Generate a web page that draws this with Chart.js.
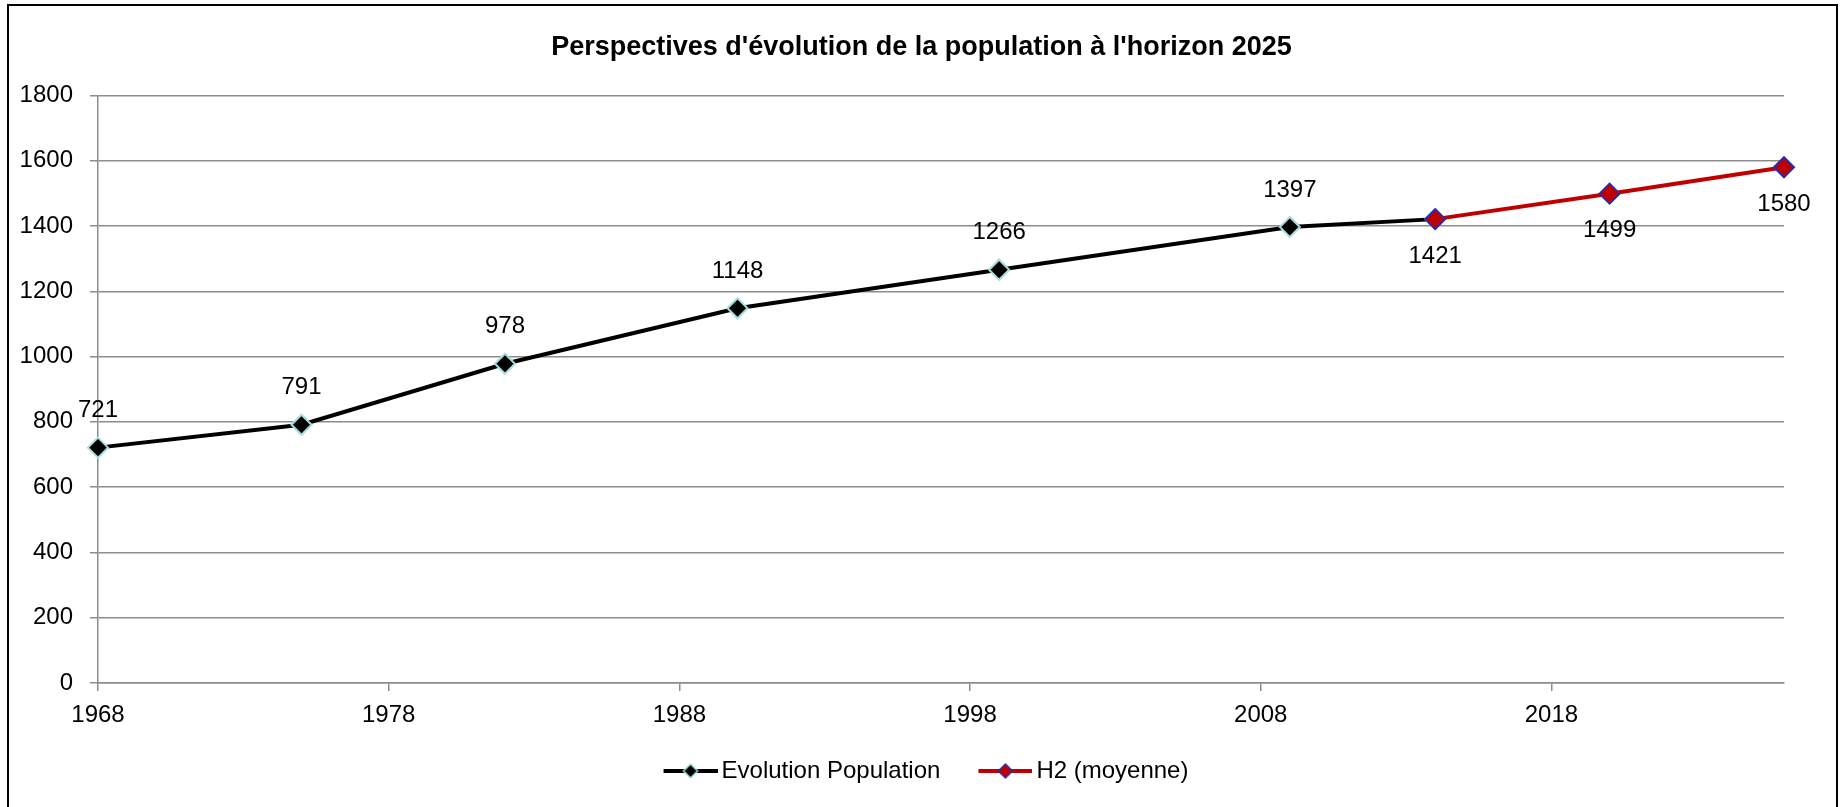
<!DOCTYPE html>
<html lang="fr">
<head>
    <meta charset="UTF-8">
    <title>Perspectives d'évolution de la population</title>
    <script src="https://cdn.jsdelivr.net/npm/chart.js"></script>
    <style>
        html, body {
            margin: 0;
            padding: 0;
            background: #fff;
        }
        #popChart {
            display: block;
        }
    </style>
</head>
<body>
    <canvas id="popChart" width="1843" height="807"></canvas>
    <script>
        // recensements
        const popYears = [1968, 1975, 1982, 1990, 1999, 2009, 2014];
        const popValues = [721, 791, 978, 1148, 1266, 1397, 1421];
        // hypothèse H2 (moyenne)
        const h2Years = [2014, 2020, 2026];
        const h2Values = [1421, 1499, 1580];
        const xTicks = [1968, 1978, 1988, 1998, 2008, 2018];
        const yTicks = [0, 200, 400, 600, 800, 1000, 1200, 1400, 1600, 1800];

        const FONT = "'Liberation Sans Narrow', 'Arial Narrow', 'Liberation Sans', Arial, sans-serif";
        const GRID = '#8c8c8c';

        // legend icon: line with a diamond in the middle, left part left blank
        function legendIcon(lineColor, fill, stroke) {
            const c = document.createElement('canvas');
            c.width = 71;
            c.height = 18;
            const g = c.getContext('2d');
            g.strokeStyle = lineColor;
            g.lineWidth = 4;
            g.beginPath();
            g.moveTo(17, 9);
            g.lineTo(71, 9);
            g.stroke();
            const cx = 44, cy = 9, r = 7;
            g.beginPath();
            g.moveTo(cx, cy - r);
            g.lineTo(cx + r, cy);
            g.lineTo(cx, cy + r);
            g.lineTo(cx - r, cy);
            g.closePath();
            g.fillStyle = fill;
            g.fill();
            g.strokeStyle = stroke;
            g.lineWidth = 1.5;
            g.stroke();
            return c;
        }

        const popIcon = legendIcon('#000000', '#000000', '#a8dadc');
        const h2Icon = legendIcon('#c00000', '#c00000', '#2b2ba8');

        // outer frame
        const framePlugin = {
            id: 'frame',
            beforeDraw(chart) {
                const ctx = chart.ctx;
                ctx.save();
                ctx.strokeStyle = '#000';
                ctx.lineWidth = 2;
                ctx.strokeRect(8, 5, 1829, 830);
                ctx.restore();
            }
        };

        // value labels: above for the census line, below for the projection
        const valueLabels = {
            id: 'valueLabels',
            afterDatasetsDraw(chart) {
                const ctx = chart.ctx;
                ctx.save();
                ctx.font = '24px ' + FONT;
                ctx.fillStyle = '#000';
                ctx.textAlign = 'center';
                ctx.textBaseline = 'middle';
                chart.data.datasets.forEach((ds, i) => {
                    const meta = chart.getDatasetMeta(i);
                    meta.data.forEach((pt, j) => {
                        const d = ds.data[j];
                        if (i === 0 && h2Years.includes(d.x)) return;
                        const dy = i === 0 ? -37 : 37;
                        ctx.fillText(String(d.y), pt.x, pt.y + dy);
                    });
                });
                ctx.restore();
            }
        };

        const ctx = document.getElementById('popChart').getContext('2d');
        new Chart(ctx, {
            type: 'line',
            data: {
                datasets: [
                    {
                        label: 'Evolution Population',
                        data: popYears.map((x, i) => ({ x: x, y: popValues[i] })),
                        borderColor: '#000000',
                        borderWidth: 4,
                        pointStyle: 'rectRot',
                        pointRadius: 10,
                        pointBackgroundColor: '#000000',
                        pointBorderColor: '#a8dadc',
                        pointBorderWidth: 2,
                        tension: 0,
                        clip: false,
                        order: 1
                    },
                    {
                        label: 'H2 (moyenne)',
                        data: h2Years.map((x, i) => ({ x: x, y: h2Values[i] })),
                        borderColor: '#c00000',
                        borderWidth: 4,
                        pointStyle: 'rectRot',
                        pointRadius: 10,
                        pointBackgroundColor: '#c00000',
                        pointBorderColor: '#2b2ba8',
                        pointBorderWidth: 2,
                        tension: 0,
                        clip: false,
                        order: 0
                    }
                ]
            },
            options: {
                responsive: false,
                animation: false,
                layout: {
                    padding: { left: 0, right: 0, top: 0, bottom: 14 }
                },
                scales: {
                    x: {
                        type: 'linear',
                        min: 1968,
                        max: 2026,
                        afterBuildTicks(scale) {
                            scale.ticks = xTicks.map(v => ({ value: v }));
                        },
                        afterFit(scale) {
                            scale.height = 47;
                        },
                        grid: {
                            drawOnChartArea: false,
                            drawTicks: true,
                            tickLength: 8,
                            color: GRID,
                            lineWidth: 1.5
                        },
                        border: { color: GRID, width: 1.5 },
                        ticks: {
                            padding: 10,
                            maxRotation: 0,
                            color: '#000',
                            font: { family: FONT, size: 24 },
                            callback: v => String(v)
                        }
                    },
                    y: {
                        min: 0,
                        max: 1800,
                        afterBuildTicks(scale) {
                            scale.ticks = yTicks.map(v => ({ value: v }));
                        },
                        afterFit(scale) {
                            scale.width = 98;
                        },
                        grid: {
                            color: GRID,
                            lineWidth: 1.5,
                            drawTicks: true,
                            tickLength: 8
                        },
                        border: { color: GRID, width: 1.5 },
                        ticks: {
                            padding: 17,
                            color: '#000',
                            font: { family: FONT, size: 24 },
                            callback: v => String(v)
                        }
                    },
                    // empty right-hand margin
                    y2: {
                        position: 'right',
                        afterFit(scale) {
                            scale.width = 59;
                        },
                        grid: { display: false },
                        border: { display: false },
                        ticks: { display: false }
                    }
                },
                plugins: {
                    title: {
                        display: true,
                        text: "Perspectives d'évolution de la population à l'horizon 2025",
                        color: '#000',
                        font: { family: FONT, size: 27, weight: 'bold' },
                        padding: { top: 31, bottom: 32 }
                    },
                    legend: {
                        position: 'bottom',
                        labels: {
                            usePointStyle: true,
                            pointStyleWidth: 55,
                            padding: 29,
                            color: '#000',
                            font: { family: FONT, size: 24 },
                            sort: (a, b) => a.datasetIndex - b.datasetIndex,
                            generateLabels(chart) {
                                return chart.data.datasets.map((ds, i) => ({
                                    text: ds.label,
                                    datasetIndex: i,
                                    pointStyle: i === 0 ? popIcon : h2Icon,
                                    fillStyle: 'transparent',
                                    strokeStyle: 'transparent',
                                    lineWidth: 0,
                                    hidden: false
                                }));
                            }
                        }
                    },
                    tooltip: { enabled: false }
                }
            },
            plugins: [framePlugin, valueLabels]
        });
    </script>
</body>
</html>
